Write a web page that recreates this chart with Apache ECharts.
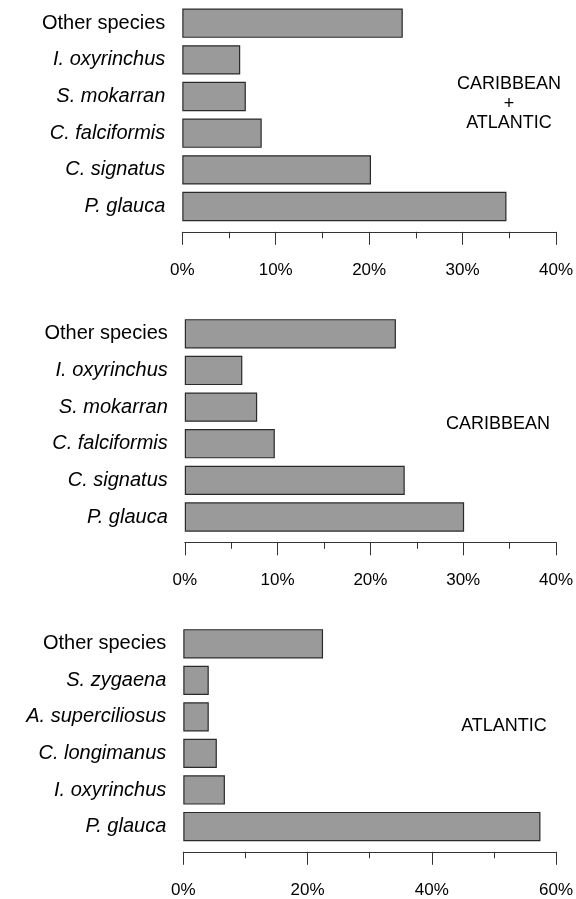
<!DOCTYPE html>
<html>
<head>
<meta charset="utf-8">
<script src="https://cdn.jsdelivr.net/npm/echarts@6/dist/echarts.min.js"></script>
<style>html,body{margin:0;padding:0;background:#fff}#c{width:576px;height:899px}</style>
</head>
<body>
<div id="c"></div>
<script>
// Panel 1: Caribbean + Atlantic
const cats1 = ["Other species", "I. oxyrinchus", "S. mokarran", "C. falciformis", "C. signatus", "P. glauca"];
const vals1 = [23.6, 6.2, 6.8, 8.5, 20.2, 34.7];
// Panel 2: Caribbean
const cats2 = ["Other species", "I. oxyrinchus", "S. mokarran", "C. falciformis", "C. signatus", "P. glauca"];
const vals2 = [22.75, 6.2, 7.8, 9.7, 23.7, 30.1];
// Panel 3: Atlantic
const cats3 = ["Other species", "S. zygaena", "A. superciliosus", "C. longimanus", "I. oxyrinchus", "P. glauca"];
const vals3 = [22.5, 4.1, 4.1, 5.4, 6.7, 57.5];
const axisMax = [40, 40, 60];
const axisInterval = [10, 10, 20];
const regionLabels = ["CARIBBEAN\n+\nATLANTIC", "CARIBBEAN", "ATLANTIC"];

const FONT = "'Liberation Sans', Arial, sans-serif";
const grids = [
  {left: 182.3, right: 19.3, top: 4.85, height: 220},
  {left: 184.8, right: 16.6, top: 315.5, height: 219.8},
  {left: 183.3, right: 17.7, top: 625.5, height: 219.3}
];
const allCats = [cats1, cats2, cats3];
const allVals = [vals1, vals2, vals3];

const option = {
  backgroundColor: '#fff',
  animation: false,
  grid: grids,
  xAxis: grids.map((g, i) => ({
    type: 'value', gridIndex: i, min: 0, max: axisMax[i], interval: axisInterval[i],
    offset: 7,
    axisLine: {show: true, lineStyle: {color: '#333', width: 1}},
    axisTick: {show: true, length: 13, lineStyle: {color: '#333', width: 1}},
    minorTick: {show: true, splitNumber: 2, length: 6.5, lineStyle: {color: '#333', width: 1}},
    splitLine: {show: false},
    axisLabel: {margin: 30, color: '#000', fontSize: 17, fontFamily: FONT,
      formatter: v => v + '%'}
  })),
  yAxis: grids.map((g, i) => ({
    type: 'category', gridIndex: i, inverse: true,
    data: allCats[i].map(c => ({value: c, textStyle: {fontStyle: c === 'Other species' ? 'normal' : 'italic'}})),
    axisLine: {show: false}, axisTick: {show: false}, splitLine: {show: false},
    axisLabel: {margin: 17, color: '#000', fontSize: 20, fontFamily: FONT}
  })),
  series: grids.map((g, i) => ({
    type: 'bar', xAxisIndex: i, yAxisIndex: i,
    data: allVals[i], barWidth: '80%',
    itemStyle: {color: '#9a9a9a', borderColor: '#2a2a2a', borderWidth: 1.2}
  })),
  graphic: [
    {type: 'text', x: 509, y: 104, style: {text: regionLabels[0], font: '18px ' + FONT, fill: '#000', align: 'center', verticalAlign: 'middle', lineHeight: 19.5}},
    {type: 'text', x: 498, y: 424.3, style: {text: regionLabels[1], font: '18px ' + FONT, fill: '#000', align: 'center', verticalAlign: 'middle'}},
    {type: 'text', x: 504, y: 726, style: {text: regionLabels[2], font: '18px ' + FONT, fill: '#000', align: 'center', verticalAlign: 'middle'}}
  ]
};

const chart = echarts.init(document.getElementById('c'), null, {renderer: 'canvas'});
chart.setOption(option);
</script>
</body>
</html>
